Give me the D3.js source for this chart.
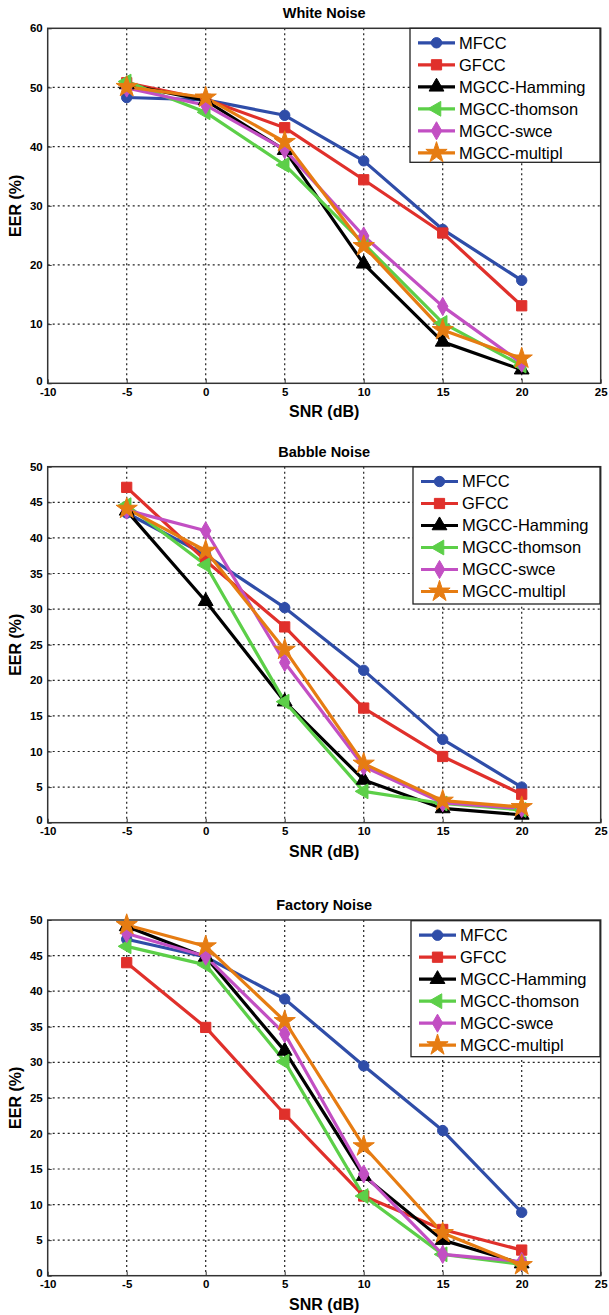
<!DOCTYPE html>
<html>
<head>
<meta charset="utf-8">
<script src="https://cdn.jsdelivr.net/npm/d3@7"></script>
<style>
  html, body { margin: 0; padding: 0; background: #fff; }
  svg { display: block; }
  text { font-family: "Liberation Sans", Arial, sans-serif; }
</style>
</head>
<body>
<svg id="chart" width="609" height="1315"></svg>
<script>
// SNR levels (dB) shared by every panel
const snr = [-5, 0, 5, 10, 15, 20];
const seriesNames = ["MFCC", "GFCC", "MGCC-Hamming", "MGCC-thomson", "MGCC-swce", "MGCC-multipl"];
const xTicks = [-10, -5, 0, 5, 10, 15, 20, 25];

// EER (%) per feature set — white noise
const whiteMFCC     = [48.3, 47.9, 45.3, 37.6, 26.0, 17.4];
const whiteGFCC     = [50.8, 48.0, 43.2, 34.4, 25.4, 13.1];
const whiteHamming  = [50.5, 47.8, 39.4, 20.2, 7.0, 2.3];
const whiteThomson  = [51.0, 45.8, 36.9, 23.6, 10.2, 3.0];
const whiteSwce     = [49.9, 47.0, 39.5, 24.9, 13.0, 3.4];
const whiteMultipl  = [50.1, 48.3, 40.8, 23.2, 9.0, 4.2];

// EER (%) — babble noise
const babbleMFCC    = [43.5, 37.6, 30.2, 21.4, 11.7, 5.0];
const babbleGFCC    = [47.1, 36.8, 27.5, 16.1, 9.3, 4.0];
const babbleHamming = [43.8, 31.1, 17.0, 6.0, 2.0, 1.1];
const babbleThomson = [44.6, 36.2, 17.0, 4.4, 2.7, 1.8];
const babbleSwce    = [43.9, 41.0, 22.5, 7.9, 2.8, 2.0];
const babbleMultipl = [44.1, 38.2, 24.3, 8.3, 3.1, 2.2];

// EER (%) — factory noise
const factoryMFCC    = [47.3, 44.8, 38.9, 29.5, 20.4, 8.9];
const factoryGFCC    = [44.0, 34.9, 22.7, 11.2, 6.5, 3.6];
const factoryHamming = [49.1, 44.8, 31.6, 14.0, 5.0, 1.7];
const factoryThomson = [46.3, 43.7, 30.1, 11.2, 3.0, 1.6];
const factorySwce    = [48.1, 44.9, 34.0, 14.3, 3.0, 2.0];
const factoryMultipl = [49.3, 46.3, 35.8, 18.2, 6.0, 1.5];

const colors = ["#2f4da8", "#e0302b", "#000000", "#5ccf48", "#c24fc3", "#e67c12"];
const markers = ["circle", "square", "triangle", "ltriangle", "diamond", "star"];

const panels = [
  { title: "White Noise",   yMax: 60, yStep: 10, top: 28.3, bottom: 383.3,
    data: [whiteMFCC, whiteGFCC, whiteHamming, whiteThomson, whiteSwce, whiteMultipl],
    legend: { x: 410, y: 28.3, w: 190, h: 134 } },
  { title: "Babble Noise",  yMax: 50, yStep: 5, top: 466.7, bottom: 822.7,
    data: [babbleMFCC, babbleGFCC, babbleHamming, babbleThomson, babbleSwce, babbleMultipl],
    legend: { x: 413, y: 467, w: 187, h: 137 } },
  { title: "Factory Noise", yMax: 50, yStep: 5, top: 920, bottom: 1275.7,
    data: [factoryMFCC, factoryGFCC, factoryHamming, factoryThomson, factorySwce, factoryMultipl],
    legend: { x: 411, y: 920.7, w: 189, h: 136 } }
];

const left = 47.7, right = 600.7;
const svg = d3.select("#chart");

function markerPath(kind) {
  switch (kind) {
    case "circle":   return d3.symbol(d3.symbolCircle, 85)();
    case "square":   return d3.symbol(d3.symbolSquare, 105)();
    case "triangle": return d3.symbol(d3.symbolTriangle, 95)();
    case "ltriangle":return d3.symbol(d3.symbolTriangle, 95)();
    case "diamond":  return d3.symbol(d3.symbolDiamond, 95)();
    case "star":     return d3.symbol(d3.symbolStar, 140)();
  }
}
function markerRotate(kind) { return kind === "ltriangle" ? -90 : 0; }

panels.forEach(p => {
  const x = d3.scaleLinear().domain([-10, 25]).range([left, right]);
  const y = d3.scaleLinear().domain([0, p.yMax]).range([p.bottom, p.top]);
  const yTicks = d3.range(0, p.yMax + 0.001, p.yStep);
  const g = svg.append("g");

  // dotted grid
  g.append("g").selectAll("line.vx").data(xTicks.slice(1, -1)).join("line")
    .attr("x1", d => x(d)).attr("x2", d => x(d))
    .attr("y1", p.top).attr("y2", p.bottom)
    .attr("stroke", "#222").attr("stroke-width", 1.2).attr("stroke-dasharray", "2,3");
  g.append("g").selectAll("line.hy").data(yTicks.slice(1, -1)).join("line")
    .attr("x1", left).attr("x2", right)
    .attr("y1", d => y(d)).attr("y2", d => y(d))
    .attr("stroke", "#222").attr("stroke-width", 1.2).attr("stroke-dasharray", "2,3");

  // axes with MATLAB-like inward ticks, plain hyphen for negatives
  const fmt = d => String(d);
  const xAxis = d3.axisBottom(x).tickValues(xTicks).tickFormat(fmt).tickSize(-4).tickPadding(7);
  const yAxis = d3.axisLeft(y).tickValues(yTicks).tickFormat(fmt).tickSize(-4).tickPadding(5);
  const gx = g.append("g").attr("transform", `translate(0,${p.bottom})`).call(xAxis);
  const gy = g.append("g").attr("transform", `translate(${left},0)`).call(yAxis);
  [gx, gy].forEach(a => {
    a.select(".domain").remove();
    a.selectAll(".tick line").attr("stroke", "#333");
    a.selectAll(".tick text")
      .attr("font-family", "'Liberation Sans Narrow', 'Liberation Sans', Arial, sans-serif")
      .attr("font-weight", "bold").attr("font-size", 11.5).attr("fill", "#000");
  });
  gx.selectAll(".tick text").attr("dy", "0.5em");
  gy.selectAll(".tick text").filter(d => d === 0).attr("dy", "0.1em");

  // frame
  g.append("rect").attr("x", left).attr("y", p.top)
    .attr("width", right - left).attr("height", p.bottom - p.top)
    .attr("fill", "none").attr("stroke", "#333").attr("stroke-width", 1.5);

  // titles
  g.append("text").attr("x", (left + right) / 2).attr("y", p.top - 10)
    .attr("text-anchor", "middle").attr("font-weight", "bold").attr("font-size", 14.5)
    .text(p.title);
  g.append("text").attr("x", (left + right) / 2).attr("y", p.bottom + 34)
    .attr("text-anchor", "middle").attr("font-weight", "bold").attr("font-size", 16)
    .text("SNR (dB)");
  g.append("text")
    .attr("transform", `translate(21,${(p.top + p.bottom) / 2}) rotate(-90)`)
    .attr("text-anchor", "middle").attr("font-weight", "bold").attr("font-size", 16)
    .text("EER (%)");

  // series lines
  const line = d3.line().x((d, i) => x(snr[i])).y(d => y(d));
  p.data.forEach((vals, k) => {
    g.append("path").datum(vals).attr("d", line)
      .attr("fill", "none").attr("stroke", colors[k]).attr("stroke-width", 3.2)
      .attr("stroke-linejoin", "round");
  });
  // series markers
  p.data.forEach((vals, k) => {
    g.append("g").selectAll("path").data(vals).join("path")
      .attr("d", markerPath(markers[k]))
      .attr("transform", (d, i) => `translate(${x(snr[i])},${y(d)}) rotate(${markerRotate(markers[k])})`)
      .attr("fill", colors[k]).attr("stroke", colors[k]).attr("stroke-width", 1);
  });

  // legend
  const L = p.legend;
  const lg = g.append("g").attr("transform", `translate(${L.x},${L.y})`);
  lg.append("rect").attr("width", L.w).attr("height", L.h)
    .attr("fill", "#fff").attr("stroke", "#222").attr("stroke-width", 1.3);
  seriesNames.forEach((name, k) => {
    const yy = 14.5 + k * 22;
    lg.append("line").attr("x1", 8).attr("x2", 45).attr("y1", yy).attr("y2", yy)
      .attr("stroke", colors[k]).attr("stroke-width", 3.2);
    lg.append("path").attr("d", markerPath(markers[k]))
      .attr("transform", `translate(26.5,${yy}) rotate(${markerRotate(markers[k])})`)
      .attr("fill", colors[k]).attr("stroke", colors[k]);
    lg.append("text").attr("x", 49).attr("y", yy).attr("dy", "0.36em")
      .attr("font-size", 16.5).attr("fill", "#000").text(name);
  });
});
</script>
</body>
</html>
